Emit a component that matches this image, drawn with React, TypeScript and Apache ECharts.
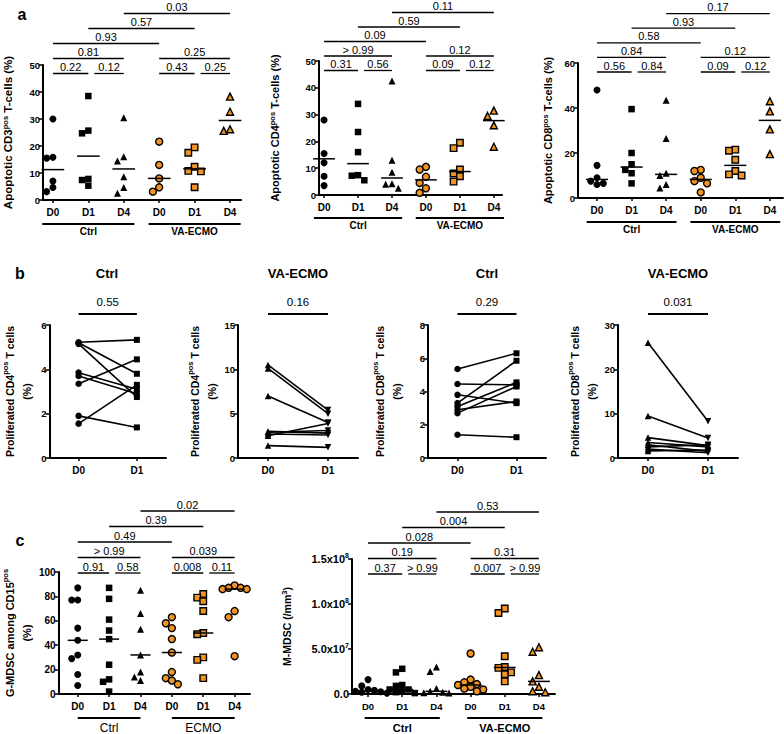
import React, { useEffect, useRef } from 'react';
import * as echarts from 'echarts';

// ---------------- data ----------------
const DAYS_6 = ['D0', 'D1', 'D4', 'D0', 'D1', 'D4'];
const DAYS_2 = ['D0', 'D1'];
const GROUPS_A = ['Ctrl', 'VA-ECMO'];
const GROUPS_C1 = ['Ctrl', 'ECMO'];
const GROUPS_C2 = ['Ctrl', 'VA-ECMO'];
const B_TITLES = ['Ctrl', 'VA-ECMO', 'Ctrl', 'VA-ECMO'];

// a — apoptotic CD3
const cd3CtrlD0 = [30, 15.8, 15.5, 7, 3.1, 4.6];
const cd3CtrlD1 = [38.5, 24.7, 25.7, 7.8, 5.3, 7.4];
const cd3CtrlD4 = [30.5, 16, 14.4, 8.6, 4.6, 2.5];
const cd3EcmoD0 = [21.6, 13, 8, 3.1, 4.7];
const cd3EcmoD1 = [19.5, 17.5, 12.3, 10.6, 10.8, 4.7];
const cd3EcmoD4 = [38.3, 32.7, 25.6, 26.2];
// a — apoptotic CD4
const cd4CtrlD0 = [28, 15, 15.5, 12, 7, 3.5];
const cd4CtrlD1 = [34, 23.5, 16, 7.4, 5.5, 7.2];
const cd4CtrlD4 = [42.5, 13, 8.5, 4.2, 2.5, 4];
const cd4EcmoD0 = [10.5, 9.5, 6.8, 4.5, 2.5, 0.8];
const cd4EcmoD1 = [19.5, 17.5, 9.5, 8, 7, 5];
const cd4EcmoD4 = [31.5, 29.5, 26, 18];
// a — apoptotic CD8
const cd8CtrlD0 = [48, 14.5, 9, 7.5, 6.5, 6];
const cd8CtrlD1 = [39.5, 20, 15, 12.5, 11, 6.5];
const cd8CtrlD4 = [43.5, 26.5, 11, 10, 6, 4.5];
const cd8EcmoD0 = [12.5, 12, 9, 7.5, 6.5, 2.5];
const cd8EcmoD1 = [21.5, 21, 17, 12, 10.5, 10];
const cd8EcmoD4 = [43, 38.5, 30.5, 19.5];

// b — proliferation, paired D0 -> D1
const prolCd4CtrlD0 = [5.22, 5.2, 5.15, 3.85, 3.7, 3.35, 1.9, 1.55];
const prolCd4CtrlD1 = [5.33, 3.8, 2.75, 3.1, 2.9, 4.45, 1.38, 3.3];
const prolCd4EcmoD0 = [10.5, 10.1, 7.0, 2.9, 2.5, 2.7, 3.0, 1.4];
const prolCd4EcmoD1 = [5.4, 5.0, 4.0, 3.1, 3.9, 2.6, 2.8, 1.2];
const prolCd8CtrlD0 = [5.35, 4.45, 3.8, 3.3, 3.1, 2.9, 2.7, 1.4];
const prolCd8CtrlD1 = [6.3, 4.4, 3.3, 5.85, 4.55, 3.4, 4.3, 1.25];
const prolCd8EcmoD0 = [26, 9.5, 4.6, 3.5, 3.0, 2.5, 2.0, 1.6];
const prolCd8EcmoD1 = [8.3, 4.5, 2.8, 2.5, 1.5, 3.0, 1.2, 1.8];

// c — G-MDSC (%)
const gmdscCtrlD0 = [87, 77, 77, 54, 44, 32, 29, 16, 7];
const gmdscCtrlD1 = [87, 78, 61, 52, 45, 24, 12, 10, 2];
const gmdscCtrlD4 = [85, 66, 53, 32, 18, 14, 11];
const gmdscEcmoD0 = [63, 58, 54, 45, 34, 18, 13, 11, 8];
const gmdscEcmoD1 = [82, 79, 76, 68, 50, 49, 30, 28, 13];
const gmdscEcmoD4 = [89, 87, 87, 86, 86, 68, 63, 31];
// c — M-MDSC (/mm3)
const mmdscCtrlD0 = [1.6e7, 0.9e7, 0.5e7, 0.4e7, 0.3e7, 0.25e7, 0.2e7, 0.15e7, 0.1e7];
const mmdscCtrlD1 = [2.8e7, 2.4e7, 1.0e7, 0.9e7, 0.5e7, 0.5e7, 0.3e7, 0.2e7, 0.1e7];
const mmdscCtrlD4 = [3.0e7, 2.5e7, 0.6e7, 0.3e7, 0.2e7, 0.15e7, 0.1e7];
const mmdscEcmoD0 = [4.5e7, 1.6e7, 1.3e7, 1.1e7, 1.0e7, 0.8e7, 0.6e7, 0.5e7, 0.3e7];
const mmdscEcmoD1 = [9.5e7, 9.0e7, 4.2e7, 3.0e7, 2.9e7, 2.4e7, 2.2e7, 1.4e7];
const mmdscEcmoD4 = [5.2e7, 4.7e7, 2.1e7, 1.4e7, 0.8e7, 0.3e7, 0.2e7];

// p-value brackets: from / to category index, stacking level, label
type Bracket = { from: number; to: number; level: number; p: string };
const cd3Brackets: Bracket[] = [
  { from: 0, to: 1, level: 0, p: '0.22' }, { from: 1, to: 2, level: 0, p: '0.12' },
  { from: 3, to: 4, level: 0, p: '0.43' }, { from: 4, to: 5, level: 0, p: '0.25' },
  { from: 0, to: 2, level: 1, p: '0.81' }, { from: 3, to: 5, level: 1, p: '0.25' },
  { from: 0, to: 3, level: 2, p: '0.93' }, { from: 1, to: 4, level: 3, p: '0.57' },
  { from: 2, to: 5, level: 4, p: '0.03' },
];
const cd4Brackets: Bracket[] = [
  { from: 0, to: 1, level: 0, p: '0.31' }, { from: 1, to: 2, level: 0, p: '0.56' },
  { from: 3, to: 4, level: 0, p: '0.09' }, { from: 4, to: 5, level: 0, p: '0.12' },
  { from: 0, to: 2, level: 1, p: '> 0.99' }, { from: 3, to: 5, level: 1, p: '0.12' },
  { from: 0, to: 3, level: 2, p: '0.09' }, { from: 1, to: 4, level: 3, p: '0.59' },
  { from: 2, to: 5, level: 4, p: '0.11' },
];
const cd8Brackets: Bracket[] = [
  { from: 0, to: 1, level: 0, p: '0.56' }, { from: 1, to: 2, level: 0, p: '0.84' },
  { from: 3, to: 4, level: 0, p: '0.09' }, { from: 4, to: 5, level: 0, p: '0.12' },
  { from: 0, to: 2, level: 1, p: '0.84' }, { from: 3, to: 5, level: 1, p: '0.12' },
  { from: 0, to: 3, level: 2, p: '0.58' }, { from: 1, to: 4, level: 3, p: '0.93' },
  { from: 2, to: 5, level: 4, p: '0.17' },
];
const gmdscBrackets: Bracket[] = [
  { from: 0, to: 1, level: 0, p: '0.91' }, { from: 1, to: 2, level: 0, p: '0.58' },
  { from: 3, to: 4, level: 0, p: '0.008' }, { from: 4, to: 5, level: 0, p: '0.11' },
  { from: 0, to: 2, level: 1, p: '> 0.99' }, { from: 3, to: 5, level: 1, p: '0.039' },
  { from: 0, to: 3, level: 2, p: '0.49' }, { from: 1, to: 4, level: 3, p: '0.39' },
  { from: 2, to: 5, level: 4, p: '0.02' },
];
const mmdscBrackets: Bracket[] = [
  { from: 0, to: 1, level: 0, p: '0.37' }, { from: 1, to: 2, level: 0, p: '> 0.99' },
  { from: 3, to: 4, level: 0, p: '0.007' }, { from: 4, to: 5, level: 0, p: '> 0.99' },
  { from: 0, to: 2, level: 1, p: '0.19' }, { from: 3, to: 5, level: 1, p: '0.31' },
  { from: 0, to: 3, level: 2, p: '0.028' }, { from: 1, to: 4, level: 3, p: '0.004' },
  { from: 2, to: 5, level: 4, p: '0.53' },
];
const bBrackets: Bracket[][] = [
  [{ from: 0, to: 1, level: 0, p: '0.55' }],
  [{ from: 0, to: 1, level: 0, p: '0.16' }],
  [{ from: 0, to: 1, level: 0, p: '0.29' }],
  [{ from: 0, to: 1, level: 0, p: '0.031' }],
];

// ---------------- styling / layout ----------------
const FONT = '"Liberation Sans", Arial, Helvetica, sans-serif';
const ORANGE = '#F39322';
const BLACK = '#000';

const SYM_A = ['circle', 'rect', 'triangle', 'circle', 'rect', 'triangle'];
const SYM_C1 = ['circle', 'rect', 'triangle', 'circle', 'rect', 'circle'];

const SCATTER_PLOTS = [
  { id: 'a1', yName: 'Apoptotic CD3{sup|pos} T-cells (%)', cols: [cd3CtrlD0, cd3CtrlD1, cd3CtrlD4, cd3EcmoD0, cd3EcmoD1, cd3EcmoD4], sym: SYM_A, yMax: 50, yStep: 10, brackets: cd3Brackets, groups: GROUPS_A },
  { id: 'a2', yName: 'Apoptotic CD4{sup|pos} T-cells (%)', cols: [cd4CtrlD0, cd4CtrlD1, cd4CtrlD4, cd4EcmoD0, cd4EcmoD1, cd4EcmoD4], sym: SYM_A, yMax: 50, yStep: 10, brackets: cd4Brackets, groups: GROUPS_A },
  { id: 'a3', yName: 'Apoptotic CD8{sup|pos} T-cells (%)', cols: [cd8CtrlD0, cd8CtrlD1, cd8CtrlD4, cd8EcmoD0, cd8EcmoD1, cd8EcmoD4], sym: SYM_A, yMax: 60, yStep: 20, brackets: cd8Brackets, groups: GROUPS_A },
  { id: 'c1', yName: 'G-MDSC among CD15{sup|pos}\n(%)', cols: [gmdscCtrlD0, gmdscCtrlD1, gmdscCtrlD4, gmdscEcmoD0, gmdscEcmoD1, gmdscEcmoD4], sym: SYM_C1, yMax: 100, yStep: 20, brackets: gmdscBrackets, groups: GROUPS_C1 },
  { id: 'c2', yName: 'M-MDSC (/mm{sup|3})', cols: [mmdscCtrlD0, mmdscCtrlD1, mmdscCtrlD4, mmdscEcmoD0, mmdscEcmoD1, mmdscEcmoD4], sym: SYM_A, yMax: 1.5e8, yStep: 5e7, brackets: mmdscBrackets, groups: GROUPS_C2, sci: true },
];

const PAIRED_PLOTS = [
  { id: 'b1', yName: 'Proliferated CD4{sup|pos} T cells\n(%)', d0: prolCd4CtrlD0, d1: prolCd4CtrlD1, sym: ['circle', 'rect'], yMax: 6, yStep: 2 },
  { id: 'b2', yName: 'Proliferated CD4{sup|pos} T cells\n(%)', d0: prolCd4EcmoD0, d1: prolCd4EcmoD1, sym: ['triangle', 'triangle'], yMax: 15, yStep: 5 },
  { id: 'b3', yName: 'Proliferated CD8{sup|pos} T cells\n(%)', d0: prolCd8CtrlD0, d1: prolCd8CtrlD1, sym: ['circle', 'rect'], yMax: 8, yStep: 2 },
  { id: 'b4', yName: 'Proliferated CD8{sup|pos} T cells\n(%)', d0: prolCd8EcmoD0, d1: prolCd8EcmoD1, sym: ['triangle', 'triangle'], yMax: 30, yStep: 10 },
];

const L: Record<string, any> = {
  a1: { left: 43, top: 65, width: 198, height: 135, xMin: -0.28, xMax: 5.31, nameGap: 28, nameSize: 11.5, nameLH: 14, tickSize: 9.5, catSize: 10, bBase: 8.5, bStep: 15, bText: 6.5, bFont: 11, bLW: 1.3, gSpan: 1.3, gFont: 10, gBold: true, gLineDy: 24, gTextDy: 7.5, marker: 7 },
  a2: { left: 319, top: 61, width: 183, height: 134, xMin: -0.15, xMax: 5.24, nameGap: 37, nameSize: 11, nameLH: 14, tickSize: 9.5, catSize: 10, bBase: 9.5, bStep: 14.5, bText: 6.5, bFont: 11, bLW: 1.3, gSpan: 1.3, gFont: 10, gBold: true, gLineDy: 23, gTextDy: 7.5, marker: 7 },
  a3: { left: 578, top: 63, width: 205, height: 135, xMin: -0.55, xMax: 5.38, nameGap: 23, nameSize: 11, nameLH: 14, tickSize: 9.5, catSize: 10, bBase: 9, bStep: 14.6, bText: 6.5, bFont: 11, bLW: 1.3, gSpan: 1.3, gFont: 10, gBold: true, gLineDy: 24, gTextDy: 7.5, marker: 7 },
  b1: { left: 48, top: 325, width: 118, height: 133, xMin: -0.5, xMax: 1.5, nameGap: 14.5, nameSize: 10.5, nameLH: 17, tickSize: 9.5, catSize: 10, bBase: -11, bStep: 15, bText: 12, bFont: 11.5, bLW: 1.8, marker: 6.5 },
  b2: { left: 238, top: 325, width: 120, height: 133, xMin: -0.5, xMax: 1.5, nameGap: 14.5, nameSize: 10.5, nameLH: 17, tickSize: 9.5, catSize: 10, bBase: -11, bStep: 15, bText: 12, bFont: 11.5, bLW: 1.8, marker: 6.5 },
  b3: { left: 428, top: 325, width: 118, height: 133, xMin: -0.5, xMax: 1.5, nameGap: 22.5, nameSize: 10.5, nameLH: 17, tickSize: 9.5, catSize: 10, bBase: -11, bStep: 15, bText: 12, bFont: 11.5, bLW: 1.8, marker: 6.5 },
  b4: { left: 618, top: 325, width: 120, height: 133, xMin: -0.5, xMax: 1.5, nameGap: 17.5, nameSize: 10.5, nameLH: 17, tickSize: 9.5, catSize: 10, bBase: -11, bStep: 15, bText: 12, bFont: 11.5, bLW: 1.8, marker: 6.5 },
  c1: { left: 50, top: 572, width: 200, height: 122, xMin: -0.61, xMax: 5.49, nameGap: 16.5, nameSize: 11, nameLH: 17, tickSize: 10, catSize: 10, bBase: 1, bStep: 15.5, bText: 6.5, bFont: 11, bLW: 1.3, gSpan: 1.0, gFont: 12, gBold: false, gLineDy: 24, gTextDy: 10, marker: 7 },
  c2: { left: 352, top: 559, width: 203, height: 135, xMin: -0.47, xMax: 5.47, nameGap: 58, nameSize: 10.5, nameLH: 14, tickSize: 11, catSize: 9.5, bBase: 15, bStep: 15.5, bText: 6.5, bFont: 11, bLW: 1.3, gSpan: 1.1, gFont: 11, gBold: true, gLineDy: 24, gTextDy: 10, marker: 7 },
};

// ---------------- helpers ----------------
function median(a: number[]) {
  const s = [...a].sort((x, y) => x - y);
  const n = s.length;
  return n % 2 ? s[(n - 1) / 2] : (s[n / 2 - 1] + s[n / 2]) / 2;
}

// simple beeswarm: spread colliding points horizontally
function swarm(values: number[], center: number, pxPerX: number, pxPerY: number, size: number) {
  const order = values.map((_, i) => i).sort((a, b) => values[b] - values[a]);
  const placed: { px: number; py: number }[] = [];
  const out: number[][] = new Array(values.length);
  const step = size * 0.9;
  for (const i of order) {
    const py = values[i] * pxPerY;
    let best = 0;
    for (let k = 0; k < 14; k++) {
      const off = k === 0 ? 0 : (k % 2 ? -1 : 1) * Math.ceil(k / 2) * step;
      if (placed.every((p) => Math.hypot(p.px - off, p.py - py) >= size * 0.9)) {
        best = off;
        break;
      }
    }
    placed.push({ px: best, py });
    out[i] = [center + best / pxPerX, values[i]];
  }
  return out;
}

function sciLabel(v: number) {
  if (v === 0) return '0.0';
  const e = Math.floor(Math.log10(v) + 1e-9);
  const m = v / Math.pow(10, e);
  return `${m.toFixed(1)}x10{sup|${e}}`;
}

const supRich = (size: number) => ({
  sup: { fontSize: size, fontWeight: 'bold', fontFamily: FONT, color: BLACK, verticalAlign: 'top', lineHeight: size },
});

function buildOption() {
  const grid: any[] = [];
  const xAxis: any[] = [];
  const yAxis: any[] = [];
  const series: any[] = [];
  const graphic: any[] = [];

  const addGrid = (lay: any, cats: string[], yMax: number, yStep: number, yName: string, sci?: boolean) => {
    const idx = grid.length;
    grid.push({ left: lay.left, top: lay.top, width: lay.width, height: lay.height });
    const ticks = cats.map((_, i) => i);
    xAxis.push({
      type: 'value', gridIndex: idx, min: lay.xMin, max: lay.xMax,
      axisLine: { show: true, onZero: false, lineStyle: { color: BLACK, width: 2 } },
      axisTick: { show: true, customValues: ticks, length: 3, lineStyle: { color: BLACK, width: 1.5 } },
      axisLabel: {
        show: true, customValues: ticks, formatter: (v: number) => cats[Math.round(v)] ?? '',
        margin: 7, color: BLACK, fontFamily: FONT, fontWeight: 'bold', fontSize: lay.catSize,
      },
      splitLine: { show: false },
    });
    const yLabel: any = {
      margin: 3, color: BLACK, fontFamily: FONT, fontWeight: 'bold', fontSize: lay.tickSize,
      lineHeight: 14, rich: supRich(7),
    };
    if (sci) yLabel.formatter = sciLabel;
    yAxis.push({
      type: 'value', gridIndex: idx, min: 0, max: yMax, interval: yStep,
      axisLine: { show: true, onZero: false, lineStyle: { color: BLACK, width: 2 } },
      axisTick: { show: true, length: 4, lineStyle: { color: BLACK, width: 1.5 } },
      axisLabel: yLabel,
      splitLine: { show: false },
      name: yName, nameLocation: 'middle', nameGap: lay.nameGap,
      nameTextStyle: {
        color: BLACK, fontFamily: FONT, fontWeight: 'bold', fontSize: lay.nameSize,
        lineHeight: lay.nameLH, rich: supRich(7.5),
      },
    });
    return idx;
  };

  const textStyle = (text: string, size: number, bold: boolean) => ({
    text, fontSize: size, fontWeight: bold ? 'bold' : 'normal', fontFamily: FONT, fill: BLACK,
    align: 'center', verticalAlign: 'middle', textAlign: 'center', textVerticalAlign: 'middle',
  });

  const bracketSeries = (idx: number, brackets: Bracket[], lay: any) => ({
    type: 'custom', xAxisIndex: idx, yAxisIndex: idx, clip: false, silent: true, z: 5,
    data: brackets.map((b) => [b.from, b.to]),
    renderItem: (params: any, api: any) => {
      const b = brackets[params.dataIndex];
      const cs = params.coordSys;
      const y = cs.y + lay.bBase - b.level * lay.bStep;
      let x1 = api.coord([b.from, 0])[0];
      const x2 = api.coord([b.to, 0])[0];
      if (brackets.some((o) => o !== b && o.level === b.level && o.to === b.from)) x1 += 6;
      return {
        type: 'group',
        children: [
          { type: 'line', shape: { x1, y1: y, x2, y2: y }, style: { stroke: BLACK, lineWidth: lay.bLW } },
          { type: 'text', x: (x1 + x2) / 2, y: y - lay.bText, style: textStyle(b.p, lay.bFont, false) },
        ],
      };
    },
  });

  const groupSeries = (idx: number, groups: string[], lay: any) => ({
    type: 'custom', xAxisIndex: idx, yAxisIndex: idx, clip: false, silent: true, z: 5,
    data: groups.map((_, i) => [1 + 3 * i, 0]),
    renderItem: (params: any, api: any) => {
      const cs = params.coordSys;
      const cx = api.coord([api.value(0), 0])[0];
      const half = api.size([lay.gSpan, 0])[0];
      const yl = cs.y + cs.height + lay.gLineDy;
      return {
        type: 'group',
        children: [
          { type: 'line', shape: { x1: cx - half, y1: yl, x2: cx + half, y2: yl }, style: { stroke: BLACK, lineWidth: 1.8 } },
          { type: 'text', x: cx, y: yl + lay.gTextDy, style: textStyle(groups[params.dataIndex], lay.gFont, lay.gBold) },
        ],
      };
    },
  });

  // scatter (column) plots
  for (const plot of SCATTER_PLOTS) {
    const lay = L[plot.id];
    const idx = addGrid(lay, DAYS_6, plot.yMax, plot.yStep, plot.yName, (plot as any).sci);
    const pxX = lay.width / (lay.xMax - lay.xMin);
    const pxY = lay.height / plot.yMax;
    plot.cols.forEach((col, i) => {
      const ecmo = i >= 3;
      series.push({
        type: 'scatter', xAxisIndex: idx, yAxisIndex: idx, silent: true, z: 3,
        symbol: plot.sym[i], symbolSize: plot.sym[i] === 'rect' ? lay.marker - 0.5 : lay.marker,
        data: swarm(col, i, pxX, pxY, lay.marker),
        itemStyle: ecmo
          ? { color: ORANGE, borderColor: BLACK, borderWidth: 1.4, opacity: 1 }
          : { color: BLACK, opacity: 1 },
      });
    });
    series.push({
      type: 'custom', xAxisIndex: idx, yAxisIndex: idx, silent: true, z: 6,
      data: plot.cols.map((c, i) => [i, median(c)]),
      renderItem: (_p: any, api: any) => {
        const p = api.coord([api.value(0), api.value(1)]);
        const half = api.size([0.32, 0])[0];
        return { type: 'line', shape: { x1: p[0] - half, y1: p[1], x2: p[0] + half, y2: p[1] }, style: { stroke: BLACK, lineWidth: 1.5 } };
      },
    });
    series.push(bracketSeries(idx, plot.brackets, lay));
    series.push(groupSeries(idx, plot.groups, lay));
  }

  // paired plots (b)
  PAIRED_PLOTS.forEach((plot, k) => {
    const lay = L[plot.id];
    const idx = addGrid(lay, DAYS_2, plot.yMax, plot.yStep, plot.yName);
    plot.d0.forEach((v, i) => {
      series.push({
        type: 'line', xAxisIndex: idx, yAxisIndex: idx, silent: true, z: 2, symbol: 'none',
        data: [[0, v], [1, plot.d1[i]]], lineStyle: { color: BLACK, width: 1.6 },
      });
    });
    series.push({
      type: 'scatter', xAxisIndex: idx, yAxisIndex: idx, silent: true, z: 3,
      symbol: plot.sym[0], symbolSize: lay.marker, data: plot.d0.map((v) => [0, v]),
      itemStyle: { color: BLACK, opacity: 1 },
    });
    series.push({
      type: 'scatter', xAxisIndex: idx, yAxisIndex: idx, silent: true, z: 3,
      symbol: plot.sym[1], symbolSize: plot.sym[1] === 'rect' ? lay.marker - 0.5 : lay.marker,
      symbolRotate: plot.sym[1] === 'triangle' ? 180 : 0,
      data: plot.d1.map((v) => [1, v]), itemStyle: { color: BLACK, opacity: 1 },
    });
    series.push(bracketSeries(idx, bBrackets[k], lay));
    graphic.push({
      type: 'text', x: lay.left + lay.width / 2, y: 273.5,
      style: textStyle(B_TITLES[k], 13, true),
    });
  });

  // panel letters
  const letters = [
    { t: 'a', x: 22, y: 14.5 },
    { t: 'b', x: 20, y: 273 },
    { t: 'c', x: 20, y: 540 },
  ];
  letters.forEach((l) =>
    graphic.push({ type: 'text', x: l.x, y: l.y, style: textStyle(l.t, 16, true) })
  );

  return { animation: false, backgroundColor: '#fff', grid, xAxis, yAxis, series, graphic };
}

export default function App() {
  const ref = useRef<HTMLDivElement>(null);
  useEffect(() => {
    const chart = echarts.init(ref.current!, null, { renderer: 'svg' });
    chart.setOption(buildOption() as any);
    return () => chart.dispose();
  }, []);
  return (
    <div
      ref={ref}
      style={{ position: 'absolute', left: 0, top: 0, width: 784, height: 734, background: '#fff' }}
    />
  );
}
